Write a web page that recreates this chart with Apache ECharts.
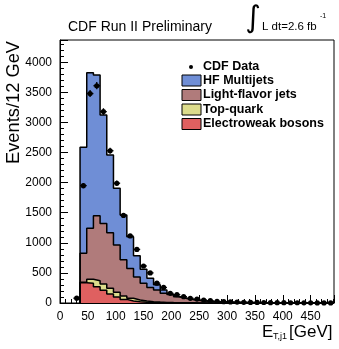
<!DOCTYPE html>
<html>
<head>
<meta charset="utf-8">
<script src="https://cdn.jsdelivr.net/npm/echarts@6/dist/echarts.min.js"></script>
<style>
  html, body { margin: 0; padding: 0; background: #fff; }
  #chart { width: 339px; height: 349px; }
</style>
</head>
<body>
<div id="chart"></div>
<script>
// Leading-jet transverse energy, 12 GeV bins
const binWidth = 12;
const xMax = 492;
const yMax = 4370;

// Background templates (lower bin edges, GeV)
const mcBinLow = [36, 48, 60, 72, 84, 96, 108, 120, 132, 144, 156, 168, 180, 192, 204, 216, 228, 240, 252,
  264, 276, 288, 300, 312, 324, 336, 348, 360, 372, 384, 396, 408, 420, 432, 444, 456, 468, 480];
const electroweak = [335, 330, 270, 210, 150, 100, 60, 35, 20, 12, 8, 5, 3, 2, 1, 1, 1, 0, 0,
  0, 0, 0, 0, 0, 0, 0, 0, 0, 0, 0, 0, 0, 0, 0, 0, 0, 0, 0];
const topQuark = [10, 63, 100, 105, 94, 78, 56, 43, 30, 21, 14, 10, 7, 5, 4, 3, 2, 2, 1,
  1, 1, 0, 0, 0, 0, 0, 0, 0, 0, 0, 0, 0, 0, 0, 0, 0, 0, 0];
const lightFlavor = [480, 847, 1080, 1005, 924, 785, 604, 497, 380, 297, 236, 201, 151, 126, 95, 72, 53, 40, 31,
  24, 18, 14, 11, 9, 7, 6, 5, 4, 3, 3, 2, 2, 2, 1, 1, 1, 1, 1];
const hfMultijets = [1765, 2586, 2337, 1803, 1290, 942, 742, 525, 355, 232, 152, 89, 55, 7, 5, 4, 4, 3, 3,
  2, 2, 2, 1, 1, 1, 1, 1, 1, 1, 1, 1, 0, 0, 0, 0, 0, 0, 0];

// Observed events
const dataBinLow = [24, 36, 48, 60, 72, 84, 96, 108, 120, 132, 144, 156, 168, 180, 192, 204, 216, 228, 240, 252,
  264, 276, 288, 300, 312, 324, 336, 348, 360, 372, 384, 396, 408, 420, 432, 444, 456, 468, 480];
const dataCounts = [80, 1950, 3480, 3610, 3180, 2530, 1990, 1455, 1115, 890, 615, 500, 330, 258, 160, 138, 105, 78, 66, 50,
  38, 28, 22, 18, 15, 12, 10, 9, 8, 6, 5, 5, 4, 4, 3, 3, 2, 2, 2];

const font = '"Liberation Sans", Arial, Helvetica, sans-serif';

// stacking order, bottom to top
const layers = [
  { name: 'Electroweak bosons', values: electroweak, color: '#df6060' },
  { name: 'Top-quark', values: topQuark, color: '#dcdc8c' },
  { name: 'Light-flavor jets', values: lightFlavor, color: '#b07b7b' },
  { name: 'HF Multijets', values: hfMultijets, color: '#6f8ed6' }
];

// running sums: the top of each layer in the stack
let running = mcBinLow.map(() => 0);
layers.forEach(l => {
  running = running.map((s, i) => s + l.values[i]);
  l.top = running.slice();
});

// step outline: vertical rise at the first edge, flat top across each bin
function stepData(values) {
  const pts = [[mcBinLow[0], 0]];
  values.forEach((v, i) => pts.push([mcBinLow[i], v]));
  pts.push([mcBinLow[mcBinLow.length - 1] + binWidth, values[values.length - 1]]);
  return pts;
}

// the tallest layer is drawn first so the lower ones sit over it
const stackSeries = layers.slice().reverse().map(l => ({
  name: l.name,
  type: 'line',
  step: 'end',
  data: stepData(l.top),
  symbol: 'none',
  xAxisIndex: 0,
  yAxisIndex: 0,
  lineStyle: { color: '#000', width: 1.5 },
  areaStyle: { color: l.color, opacity: 1, origin: 'start' },
  silent: true,
  z: 2
}));

const dataSeries = {
  name: 'CDF Data',
  type: 'custom',
  xAxisIndex: 0,
  yAxisIndex: 0,
  z: 5,
  data: dataBinLow.map((lo, i) => [lo + binWidth / 2, dataCounts[i]]),
  renderItem: function (params, api) {
    const x = api.value(0), y = api.value(1);
    const c = api.coord([x, y]);
    const l = api.coord([x - binWidth / 2, y]);
    const r = api.coord([x + binWidth / 2, y]);
    const err = Math.sqrt(y);
    const t = api.coord([x, y + err]);
    const b = api.coord([x, Math.max(0, y - err)]);
    return {
      type: 'group',
      children: [
        { type: 'line', shape: { x1: l[0], y1: c[1], x2: r[0], y2: c[1] }, style: { stroke: '#000', lineWidth: 1.3 } },
        { type: 'line', shape: { x1: c[0], y1: t[1], x2: c[0], y2: b[1] }, style: { stroke: '#000', lineWidth: 1.3 } },
        { type: 'circle', shape: { cx: c[0], cy: c[1], r: 2.6 }, style: { fill: '#000' } }
      ]
    };
  }
};

const tickLabel = { color: '#000', fontFamily: font, fontSize: 12 };

function txt(x, y, text, fontSpec, align, extra) {
  return Object.assign({
    type: 'text', x: x, y: y,
    style: { text: text, font: fontSpec, fill: '#000', textAlign: align || 'left', textVerticalAlign: 'middle', align: align || 'left', verticalAlign: 'middle' }
  }, extra || {});
}

const option = {
  animation: false,
  grid: { left: 60, right: 5, top: 40, bottom: 46, show: true, borderColor: '#000', borderWidth: 1, backgroundColor: 'transparent' },
  xAxis: [
    { // minor ticks every 10 GeV
      type: 'value', min: 0, max: xMax, interval: 10,
      axisLine: { show: true, lineStyle: { color: '#000', width: 1 } },
      axisTick: { show: true, inside: true, length: 4, lineStyle: { color: '#000' } },
      axisLabel: { show: false },
      splitLine: { show: false }
    },
    { // major ticks and labels every 50 GeV
      type: 'value', min: 0, max: xMax, interval: 50, position: 'bottom',
      axisLine: { show: false },
      axisTick: { show: true, inside: true, length: 8, lineStyle: { color: '#000' } },
      axisLabel: Object.assign({ margin: 8, formatter: v => (v % 50 === 0 ? String(v) : '') }, tickLabel),
      splitLine: { show: false }
    }
  ],
  yAxis: [
    {
      type: 'value', min: 0, max: yMax, interval: 100,
      axisLine: { show: true, lineStyle: { color: '#000', width: 1 } },
      axisTick: { show: true, inside: true, length: 4, lineStyle: { color: '#000' } },
      axisLabel: { show: false },
      splitLine: { show: false }
    },
    {
      type: 'value', min: 0, max: yMax, interval: 500, position: 'left',
      axisLine: { show: false },
      axisTick: { show: true, inside: true, length: 8, lineStyle: { color: '#000' } },
      axisLabel: Object.assign({ margin: 8, formatter: v => (v % 500 === 0 ? String(v) : '') }, tickLabel),
      splitLine: { show: false }
    }
  ],
  series: stackSeries.concat([dataSeries]),
  graphic: [
    txt(68, 27, 'CDF Run II Preliminary', '14px ' + font),
    txt(253, 19, '\u222B', '30px "DejaVu Sans"', 'center'),
    txt(262, 27, 'L dt=2.6 fb', '11.5px ' + font),
    txt(320, 16, '-1', '7px ' + font),
    // axis titles
    txt(14, 41, 'Events/12 GeV', '18.3px ' + font, 'right', { rotation: Math.PI / 2 }),
    txt(262, 332, 'E', '17px ' + font),
    txt(273, 337, 'T,j1', '9px ' + font),
    txt(289, 332, '[GeV]', '17px ' + font),
    // legend
    { type: 'circle', shape: { cx: 191, cy: 67, r: 2 }, style: { fill: '#000' } },
    txt(203, 67, 'CDF Data', 'bold 12.5px ' + font)
  ].concat(
    layers.slice().reverse().flatMap((l, i) => {
      const cy = 80.5 + i * 14.5;
      return [
        { type: 'rect', shape: { x: 182, y: cy - 5.5, width: 19, height: 11 }, style: { fill: l.color, stroke: '#000', lineWidth: 1 } },
        txt(203, cy, l.name, 'bold 12.5px ' + font)
      ];
    })
  )
};

const chart = echarts.init(document.getElementById('chart'), null, { renderer: 'canvas' });
chart.setOption(option);
</script>
</body>
</html>
